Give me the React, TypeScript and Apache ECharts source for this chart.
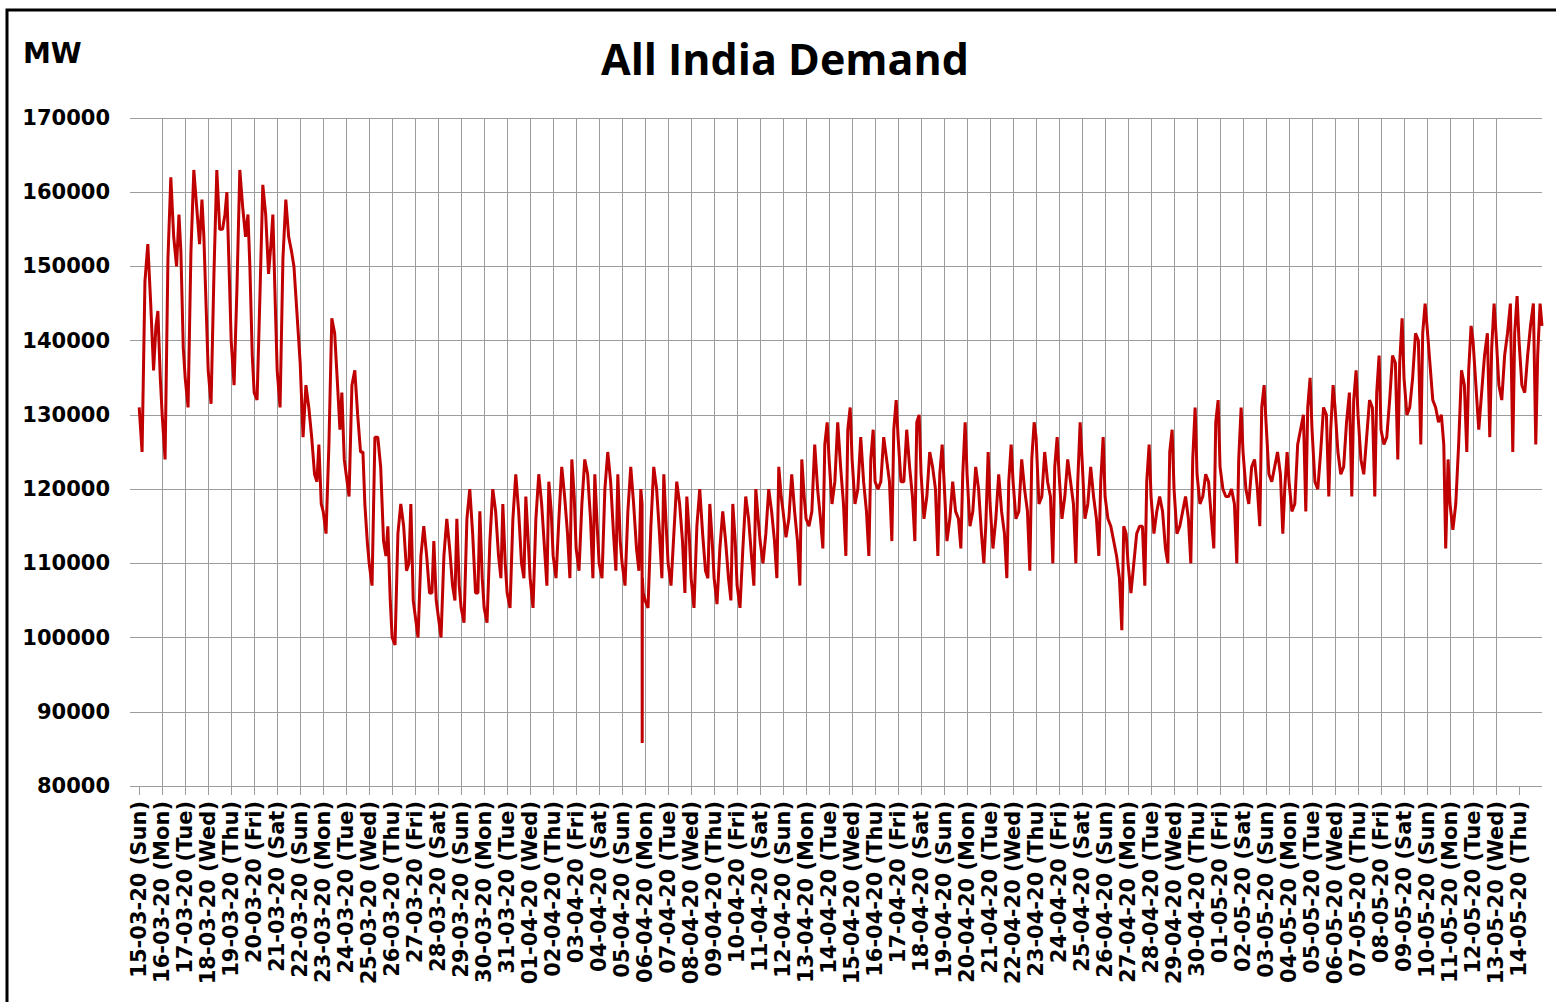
import React, { useEffect, useRef } from "react";
import * as echarts from "echarts";

const dayLabels: string[] = [
  "15-03-20 (Sun)", "16-03-20 (Mon)", "17-03-20 (Tue)", "18-03-20 (Wed)", "19-03-20 (Thu)", "20-03-20 (Fri)", "21-03-20 (Sat)",
  "22-03-20 (Sun)", "23-03-20 (Mon)", "24-03-20 (Tue)", "25-03-20 (Wed)", "26-03-20 (Thu)", "27-03-20 (Fri)", "28-03-20 (Sat)",
  "29-03-20 (Sun)", "30-03-20 (Mon)", "31-03-20 (Tue)", "01-04-20 (Wed)", "02-04-20 (Thu)", "03-04-20 (Fri)", "04-04-20 (Sat)",
  "05-04-20 (Sun)", "06-04-20 (Mon)", "07-04-20 (Tue)", "08-04-20 (Wed)", "09-04-20 (Thu)", "10-04-20 (Fri)", "11-04-20 (Sat)",
  "12-04-20 (Sun)", "13-04-20 (Mon)", "14-04-20 (Tue)", "15-04-20 (Wed)", "16-04-20 (Thu)", "17-04-20 (Fri)", "18-04-20 (Sat)",
  "19-04-20 (Sun)", "20-04-20 (Mon)", "21-04-20 (Tue)", "22-04-20 (Wed)", "23-04-20 (Thu)", "24-04-20 (Fri)", "25-04-20 (Sat)",
  "26-04-20 (Sun)", "27-04-20 (Mon)", "28-04-20 (Tue)", "29-04-20 (Wed)", "30-04-20 (Thu)", "01-05-20 (Fri)", "02-05-20 (Sat)",
  "03-05-20 (Sun)", "04-05-20 (Mon)", "05-05-20 (Tue)", "06-05-20 (Wed)", "07-05-20 (Thu)", "08-05-20 (Fri)", "09-05-20 (Sat)",
  "10-05-20 (Sun)", "11-05-20 (Mon)", "12-05-20 (Tue)", "13-05-20 (Wed)", "14-05-20 (Thu)",
];

// hour of day at which each daily reading is taken
const sampleHours: number[] = [0, 3, 6, 9, 12, 15, 17.5, 19.5, 22];

// All India demand (MW), one row per day, one value per sample hour
const dailyDemand: number[][] = [
  [131000, 125000, 148000, 153000, 145000, 136000, 142000, 144000, 135000],
  [130000, 124000, 151000, 162000, 154000, 150000, 157000, 152000, 139000],
  [135000, 131000, 152000, 163000, 158000, 153000, 159000, 154000, 144000],
  [136000, 131500, 149000, 163000, 155000, 155000, 157000, 160000, 149000],
  [140000, 134000, 147000, 163000, 158000, 154000, 157000, 150000, 138000],
  [133000, 132000, 146000, 161000, 157000, 149000, 153000, 157000, 145000],
  [136000, 131000, 151000, 159000, 154000, 152000, 150000, 146000, 141000],
  [137000, 127000, 134000, 131000, 127000, 122000, 121000, 126000, 118000],
  [117000, 114000, 126000, 143000, 141000, 134000, 128000, 133000, 124000],
  [122000, 119000, 134000, 136000, 130000, 125000, 125000, 118000, 113000],
  [110000, 107000, 127000, 127000, 123000, 113000, 111000, 115000, 105000],
  [100000, 99000, 114000, 118000, 115000, 109000, 110000, 118000, 105000],
  [103000, 100000, 111000, 115000, 111000, 106000, 106000, 113000, 105000],
  [103000, 100000, 111000, 116000, 112000, 107000, 105000, 116000, 107000],
  [104000, 102000, 116000, 120000, 114000, 106000, 106000, 117000, 108000],
  [104000, 102000, 113000, 120000, 117000, 111000, 108000, 118000, 110000],
  [106000, 104000, 116000, 122000, 117000, 110000, 108000, 119000, 113000],
  [108000, 104000, 116000, 122000, 118000, 112000, 107000, 121000, 117000],
  [111000, 108000, 116000, 123000, 119000, 114000, 108000, 124000, 119000],
  [112000, 109000, 118000, 124000, 122000, 116000, 108000, 122000, 115000],
  [110000, 108000, 120000, 125000, 121000, 114000, 109000, 122000, 113000],
  [110000, 107000, 117000, 123000, 118000, 112000, 109000, 120000, 106000],
  [105000, 104000, 115000, 123000, 120000, 114000, 108000, 122000, 115000],
  [110000, 107000, 114000, 121000, 118000, 113000, 106000, 119000, 114000],
  [108000, 104000, 115000, 120000, 114000, 109000, 108000, 118000, 113000],
  [108000, 104500, 112000, 117000, 113000, 108000, 105000, 118000, 113000],
  [107000, 104000, 112000, 119000, 116000, 111000, 107000, 120000, 116000],
  [113000, 110000, 114000, 120000, 117000, 113000, 108000, 123000, 119000],
  [117000, 113500, 116000, 122000, 117000, 113000, 107000, 124000, 119000],
  [116000, 115000, 117000, 126000, 120000, 116000, 112000, 126000, 129000],
  [124000, 118000, 121000, 129000, 123000, 118000, 111000, 128000, 131000],
  [124000, 118000, 120000, 127000, 121000, 117000, 111000, 124000, 128000],
  [121000, 120000, 121000, 127000, 124000, 121000, 113000, 128000, 132000],
  [127000, 121000, 121000, 128000, 123000, 119000, 113000, 129000, 130000],
  [122000, 116000, 119000, 125000, 123000, 120000, 111000, 122000, 126000],
  [121000, 113000, 116000, 121000, 117000, 116000, 112000, 122000, 129000],
  [122000, 115000, 117000, 123000, 120000, 114000, 110000, 115000, 125000],
  [118000, 112000, 116000, 122000, 117000, 114000, 108000, 121000, 126000],
  [121000, 116000, 117000, 124000, 120000, 117000, 109000, 124000, 129000],
  [127000, 118000, 119000, 125000, 121000, 119000, 110000, 123000, 127000],
  [122000, 116000, 119000, 124000, 121000, 118000, 110000, 121000, 129000],
  [124000, 116000, 118000, 123000, 119000, 116000, 111000, 121000, 127000],
  [119000, 116000, 115000, 113000, 111000, 108000, 101000, 115000, 114000],
  [110000, 106000, 110000, 114000, 115000, 115000, 107000, 121000, 126000],
  [119000, 114000, 117000, 119000, 117000, 112000, 110000, 125000, 128000],
  [120000, 114000, 115000, 117000, 119000, 116000, 110000, 124000, 131000],
  [122000, 118000, 119000, 122000, 121000, 116000, 112000, 129000, 132000],
  [123000, 120000, 119000, 119000, 120000, 118000, 110000, 124000, 131000],
  [125000, 120000, 118000, 123000, 124000, 120000, 115000, 131000, 134000],
  [129000, 122000, 121000, 123000, 125000, 122000, 114000, 120000, 125000],
  [121000, 117000, 118000, 126000, 128000, 130000, 117000, 131000, 135000],
  [128000, 121000, 120000, 125000, 131000, 130000, 119000, 128000, 134000],
  [131000, 125000, 122000, 123000, 129000, 133000, 119000, 132000, 136000],
  [130000, 124000, 122000, 127000, 132000, 131000, 119000, 133000, 138000],
  [128000, 126000, 127000, 132000, 138000, 137000, 124000, 137000, 143000],
  [135000, 130000, 131000, 135000, 141000, 140000, 126000, 141000, 145000],
  [142000, 137000, 132000, 131000, 129000, 130000, 126000, 112000, 124000],
  [118000, 114500, 118000, 126000, 136000, 134000, 125000, 136000, 142000],
  [140000, 134000, 128000, 133000, 138000, 141000, 127000, 139000, 145000],
  [141000, 134000, 132000, 138000, 141000, 145000, 125000, 141000, 146000],
  [140000, 134000, 133000, 138000, 142000, 145000, 126000, 138000, 145000],
];

// 05-04-20, 9 PM lights-off event
const eventDay = 21;
const eventHours: number[] = [20.8, 20.95, 21.1];
const eventDemand: number[] = [118000, 85800, 108000];

// closing reading at the end of 14-05-20
const closingDay = 61;
const closingDemand = 142000;

const yTicks: number[] = [80000, 90000, 100000, 110000, 120000, 130000, 140000, 150000, 160000, 170000];

function buildSeries(): number[][] {
  const pts: number[][] = [];
  dailyDemand.forEach((row, d) => {
    row.forEach((v, i) => pts.push([d + sampleHours[i] / 24, v]));
  });
  eventHours.forEach((h, i) => pts.push([eventDay + h / 24, eventDemand[i]]));
  pts.push([closingDay, closingDemand]);
  pts.sort((a, b) => a[0] - b[0]);
  return pts;
}

export default function App() {
  const ref = useRef<HTMLDivElement>(null);
  useEffect(() => {
    if (!ref.current) return;
    const chart = echarts.init(ref.current, undefined, { renderer: "svg" });
    const dayIdx = dayLabels.map((_, i) => i);
    const grid = "#9c9c9c";
    chart.setOption({
      animation: false,
      backgroundColor: "#ffffff",
      grid: { left: 130, right: 14, top: 118, bottom: 216, containLabel: false },
      graphic: [
        {
          type: "rect",
          shape: { x: 7, y: 10, width: 1560, height: 1010 },
          style: { fill: "none", stroke: "#000000", lineWidth: 3 },
          silent: true,
        },
        {
          type: "text",
          x: 23,
          y: 53,
          style: {
            text: "MW",
            font: "bold 28px 'DejaVu Sans'",
            fill: "#000000",
            textVerticalAlign: "middle",
          },
        },
        {
          type: "text",
          x: 785,
          y: 58,
          style: {
            text: "All India Demand",
            font: "bold 43px 'Open Sans'",
            fill: "#000000",
            textAlign: "center",
            textVerticalAlign: "middle",
          },
        },
      ],
      xAxis: {
        type: "value",
        min: -0.4,
        max: 61,
        splitNumber: 61,
        minInterval: 1,
        maxInterval: 1,
        axisLine: { show: false },
        axisTick: { show: true, length: 9, lineStyle: { color: grid, width: 1 }, customValues: dayIdx },
        splitLine: { show: true, showMinLine: false, showMaxLine: false, lineStyle: { color: grid, width: 1 } },
        axisLabel: {
          customValues: dayIdx,
          rotate: 90,
          margin: 15,
          fontFamily: "DejaVu Sans",
          fontWeight: "bold",
          fontSize: 21,
          color: "#000000",
          formatter: (v: number) => {
            const r = Math.round(v);
            if (Math.abs(v - r) > 1e-6 || r < 0 || r >= dayLabels.length) return "";
            return dayLabels[r];
          },
        },
      },
      yAxis: {
        type: "value",
        min: yTicks[0],
        max: yTicks[yTicks.length - 1],
        interval: yTicks[1] - yTicks[0],
        axisLine: { show: false },
        axisTick: { show: false },
        splitLine: { show: true, lineStyle: { color: grid, width: 1 } },
        axisLabel: {
          margin: 20,
          fontFamily: "DejaVu Sans",
          fontWeight: "bold",
          fontSize: 21,
          color: "#000000",
          formatter: (v: number) => String(v),
        },
      },
      series: [
        {
          type: "line",
          data: buildSeries(),
          showSymbol: false,
          symbol: "none",
          lineStyle: { color: "#C00000", width: 3 },
          z: 5,
        },
      ],
    });
    return () => chart.dispose();
  }, []);
  return (
    <div
      ref={ref}
      style={{ position: "absolute", left: 0, top: 0, width: 1556, height: 1002, background: "#fff" }}
    />
  );
}
